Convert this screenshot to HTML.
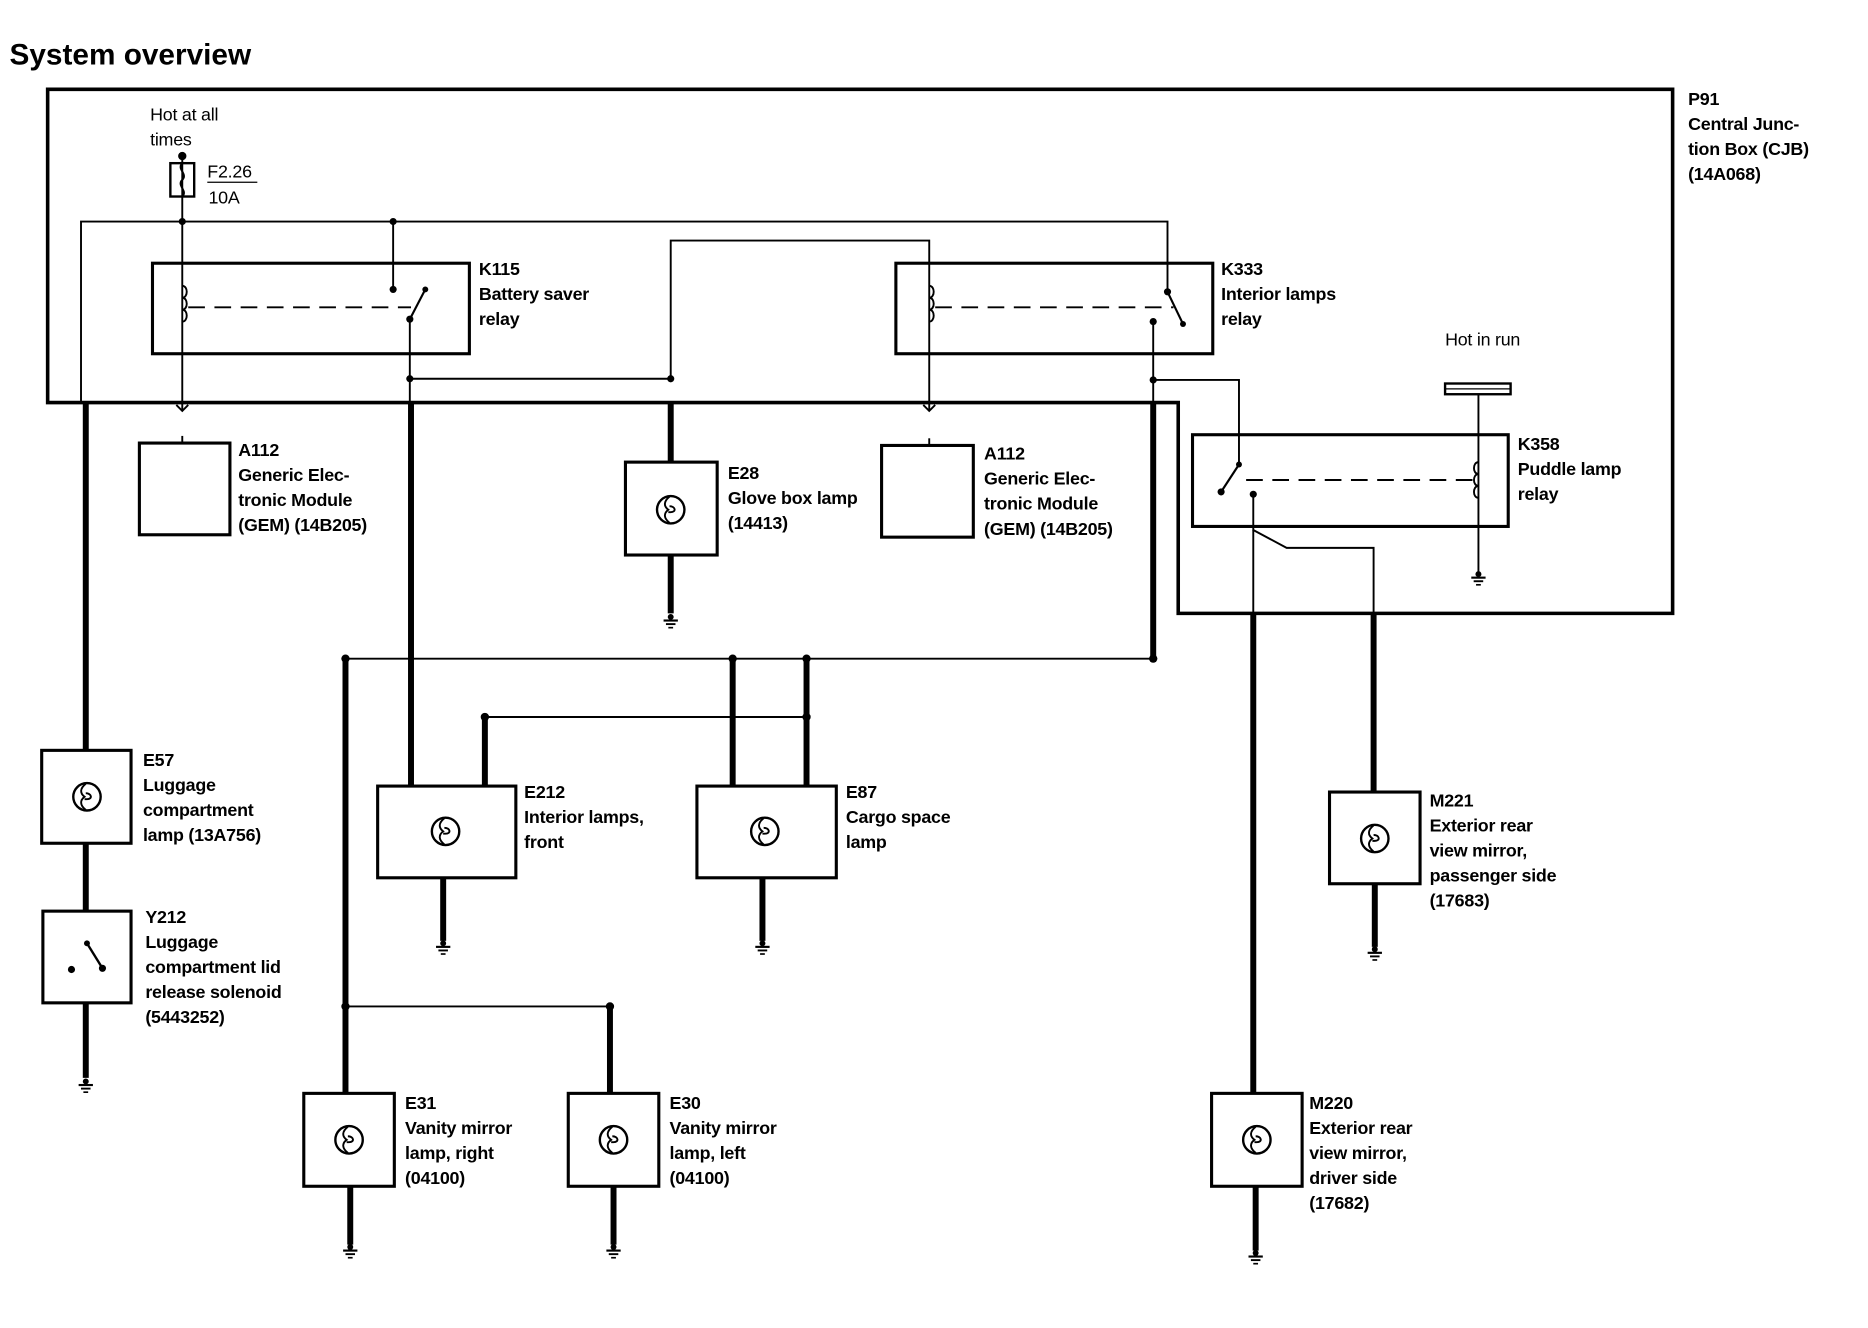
<!DOCTYPE html>
<html><head><meta charset="utf-8"><style>
html,body{margin:0;padding:0;background:#fff;}
svg{display:block;}
text{font-family:"Liberation Sans",sans-serif;font-size:15px;font-weight:bold;fill:#000;letter-spacing:-0.2px;}
.n{font-weight:normal;}
</style></head><body>
<svg width="1868" height="1328" viewBox="0 0 1568 1115" preserveAspectRatio="none" xmlns="http://www.w3.org/2000/svg">
<defs>
<g id="lamp"><circle cx="0" cy="0" r="11.5" fill="none" stroke="#000" stroke-width="2"/><path d="M-1,-11 C-6,-7 -6,-3 -2,0 C-6,3 -6,7 -1,11" fill="none" stroke="#000" stroke-width="1.6"/><path d="M-1,-3 C4,-3 5,2 0,2 L-2,2" fill="none" stroke="#000" stroke-width="1.6"/></g>
<g id="gnd"><circle cx="0" cy="0" r="2.5" fill="#000"/><line x1="-6" y1="3" x2="6" y2="3" stroke="#000" stroke-width="1.8"/><line x1="-4" y1="6" x2="4" y2="6" stroke="#000" stroke-width="1.6"/><line x1="-2" y1="9" x2="2" y2="9" stroke="#000" stroke-width="1.4"/></g>
</defs>
<text x="8" y="54" style="font-size:25px;letter-spacing:0">System overview</text>
<g fill="none" stroke="#000">
<path d="M40,338 V75 H1404 V515 H989 V338 Z" stroke-width="3"/>
<g stroke-width="1.6">
<path d="M153,131 V345"/>
<path d="M68,338 V186 H980 V245"/>
<path d="M330,186 V243"/>
<path d="M563,318 V202 H780 V345"/>
<path d="M344,268 V338"/>
<path d="M344,318 H563"/>
<path d="M968,270 V338"/>
<path d="M968,319 H1040 V390"/>
<path d="M290,553 H968"/>
<path d="M407,602 H677"/>
<path d="M290,845 H512"/>
<path d="M1052,415 V445 L1080,460 H1153 V515"/>
<path d="M1052,445 V515"/>
<path d="M1241,331 V480"/>
<path d="M153,366 V372"/><path d="M780,368 V374"/>
<path d="M148,340 L153,345 L158,340"/><path d="M775,340 L780,345 L785,340"/>
</g>
<g stroke-width="1.8"><path d="M344,268 L357,243"/><path d="M980,245 L993,272"/><path d="M1025,413 L1040,390"/></g>
<g stroke-width="1.6" stroke-dasharray="14,8"><path d="M158,258 H345"/><path d="M785,258 H985"/><path d="M1046,403 H1236"/></g>
<g stroke-width="1.6"><path d="M153,240 c5,0 5,10 0,10 c5,0 5,10 0,10 c5,0 5,10 0,10"/><path d="M780,240 c5,0 5,10 0,10 c5,0 5,10 0,10 c5,0 5,10 0,10"/><path d="M1241,388 c-5,0 -5,10 0,10 c-5,0 -5,10 0,10 c-5,0 -5,10 0,10"/></g>
<g stroke-width="5">
<path d="M72,338 V630"/><path d="M72,708 V765"/><path d="M72,842 V905"/>
<path d="M345,338 V660"/>
<path d="M563,338 V388"/><path d="M563,466 V515"/>
<path d="M968,338 V553"/>
<path d="M290,553 V918"/><path d="M512,845 V918"/>
<path d="M615,553 V660"/><path d="M677,553 V660"/><path d="M407,602 V660"/>
<path d="M372,737 V790"/><path d="M640,737 V790"/>
<path d="M294,996 V1045"/><path d="M515,996 V1045"/>
<path d="M1052,515 V918"/><path d="M1153,515 V665"/>
<path d="M1154,742 V795"/><path d="M1054,996 V1050"/>
</g>
<g stroke-width="2.6" fill="#fff">
<rect x="128" y="221" width="266" height="76" fill="none"/>
<rect x="752" y="221" width="266" height="76" fill="none"/>
<rect x="1001" y="365" width="265" height="77" fill="none"/>
<rect x="117" y="372" width="76" height="77"/>
<rect x="740" y="374" width="77" height="77"/>
<rect x="525" y="388" width="77" height="78"/>
<rect x="35" y="630" width="75" height="78"/>
<rect x="36" y="765" width="74" height="77"/>
<rect x="317" y="660" width="116" height="77"/>
<rect x="585" y="660" width="117" height="77"/>
<rect x="255" y="918" width="76" height="78"/>
<rect x="477" y="918" width="76" height="78"/>
<rect x="1116" y="665" width="76" height="77"/>
<rect x="1017" y="918" width="76" height="78"/>
</g>
<rect x="143" y="137" width="20" height="28" stroke-width="2"/>
<path d="M153,137 c-5,5 5,9 0,14 c-5,5 5,9 0,14" stroke-width="1.6"/>
<line x1="174" y1="153" x2="216" y2="153" stroke-width="1"/>
<rect x="1213" y="322" width="55" height="9" stroke-width="2"/>
<line x1="1213" y1="326.5" x2="1268" y2="326.5" stroke-width="1"/>
<path d="M73,792 L86,813" stroke-width="2"/>
</g>
<g fill="#000">
<circle cx="153" cy="131" r="3.5"/><circle cx="153" cy="186" r="3"/><circle cx="330" cy="186" r="3"/><circle cx="330" cy="243" r="3"/>
<circle cx="344" cy="268" r="3"/><circle cx="357" cy="243" r="2.5"/><circle cx="344" cy="318" r="3"/><circle cx="563" cy="318" r="3"/>
<circle cx="980" cy="245" r="3"/><circle cx="993" cy="272" r="2.5"/><circle cx="968" cy="270" r="3"/><circle cx="968" cy="319" r="3"/>
<circle cx="1025" cy="413" r="3"/><circle cx="1040" cy="390" r="2.5"/><circle cx="1052" cy="415" r="3"/>
<circle cx="290" cy="553" r="3.5"/><circle cx="615" cy="553" r="3.5"/><circle cx="677" cy="553" r="3.5"/><circle cx="968" cy="553" r="3.5"/>
<circle cx="407" cy="602" r="3.5"/><circle cx="677" cy="602" r="3.5"/><circle cx="290" cy="845" r="3.5"/><circle cx="512" cy="845" r="3.5"/>
<circle cx="60" cy="814" r="3"/><circle cx="73" cy="792" r="2.5"/><circle cx="86" cy="813" r="3"/>
</g>
<use href="#lamp" x="563" y="428"/><use href="#lamp" x="73" y="669"/><use href="#lamp" x="374" y="698"/><use href="#lamp" x="642" y="698"/>
<use href="#lamp" x="293" y="957"/><use href="#lamp" x="515" y="957"/><use href="#lamp" x="1154" y="704"/><use href="#lamp" x="1055" y="957"/>
<use href="#gnd" x="563" y="518"/><use href="#gnd" x="72" y="908"/><use href="#gnd" x="372" y="792"/><use href="#gnd" x="640" y="792"/>
<use href="#gnd" x="294" y="1047"/><use href="#gnd" x="515" y="1047"/><use href="#gnd" x="1154" y="797"/><use href="#gnd" x="1054" y="1052"/><use href="#gnd" x="1241" y="482"/>
<text class="n" x="126" y="101">Hot at all</text><text class="n" x="126" y="122">times</text>
<text class="n" x="174" y="149">F2.26</text><text class="n" x="175" y="171">10A</text>
<text class="n" x="1213" y="290">Hot in run</text>
<text x="1417" y="88">P91</text><text x="1417" y="109">Central Junc-</text><text x="1417" y="130">tion Box (CJB)</text><text x="1417" y="151">(14A068)</text>
<text x="402" y="231">K115</text><text x="402" y="252">Battery saver</text><text x="402" y="273">relay</text>
<text x="1025" y="231">K333</text><text x="1025" y="252">Interior lamps</text><text x="1025" y="273">relay</text>
<text x="1274" y="378">K358</text><text x="1274" y="399">Puddle lamp</text><text x="1274" y="420">relay</text>
<text x="200" y="383">A112</text><text x="200" y="404">Generic Elec-</text><text x="200" y="425">tronic Module</text><text x="200" y="446">(GEM) (14B205)</text>
<text x="826" y="386">A112</text><text x="826" y="407">Generic Elec-</text><text x="826" y="428">tronic Module</text><text x="826" y="449">(GEM) (14B205)</text>
<text x="611" y="402">E28</text><text x="611" y="423">Glove box lamp</text><text x="611" y="444">(14413)</text>
<text x="120" y="643">E57</text><text x="120" y="664">Luggage</text><text x="120" y="685">compartment</text><text x="120" y="706">lamp (13A756)</text>
<text x="122" y="775">Y212</text><text x="122" y="796">Luggage</text><text x="122" y="817">compartment lid</text><text x="122" y="838">release solenoid</text><text x="122" y="859">(5443252)</text>
<text x="440" y="670">E212</text><text x="440" y="691">Interior lamps,</text><text x="440" y="712">front</text>
<text x="710" y="670">E87</text><text x="710" y="691">Cargo space</text><text x="710" y="712">lamp</text>
<text x="1200" y="677">M221</text><text x="1200" y="698">Exterior rear</text><text x="1200" y="719">view mirror,</text><text x="1200" y="740">passenger side</text><text x="1200" y="761">(17683)</text>
<text x="340" y="931">E31</text><text x="340" y="952">Vanity mirror</text><text x="340" y="973">lamp, right</text><text x="340" y="994">(04100)</text>
<text x="562" y="931">E30</text><text x="562" y="952">Vanity mirror</text><text x="562" y="973">lamp, left</text><text x="562" y="994">(04100)</text>
<text x="1099" y="931">M220</text><text x="1099" y="952">Exterior rear</text><text x="1099" y="973">view mirror,</text><text x="1099" y="994">driver side</text><text x="1099" y="1015">(17682)</text>
</svg>
</body></html>
